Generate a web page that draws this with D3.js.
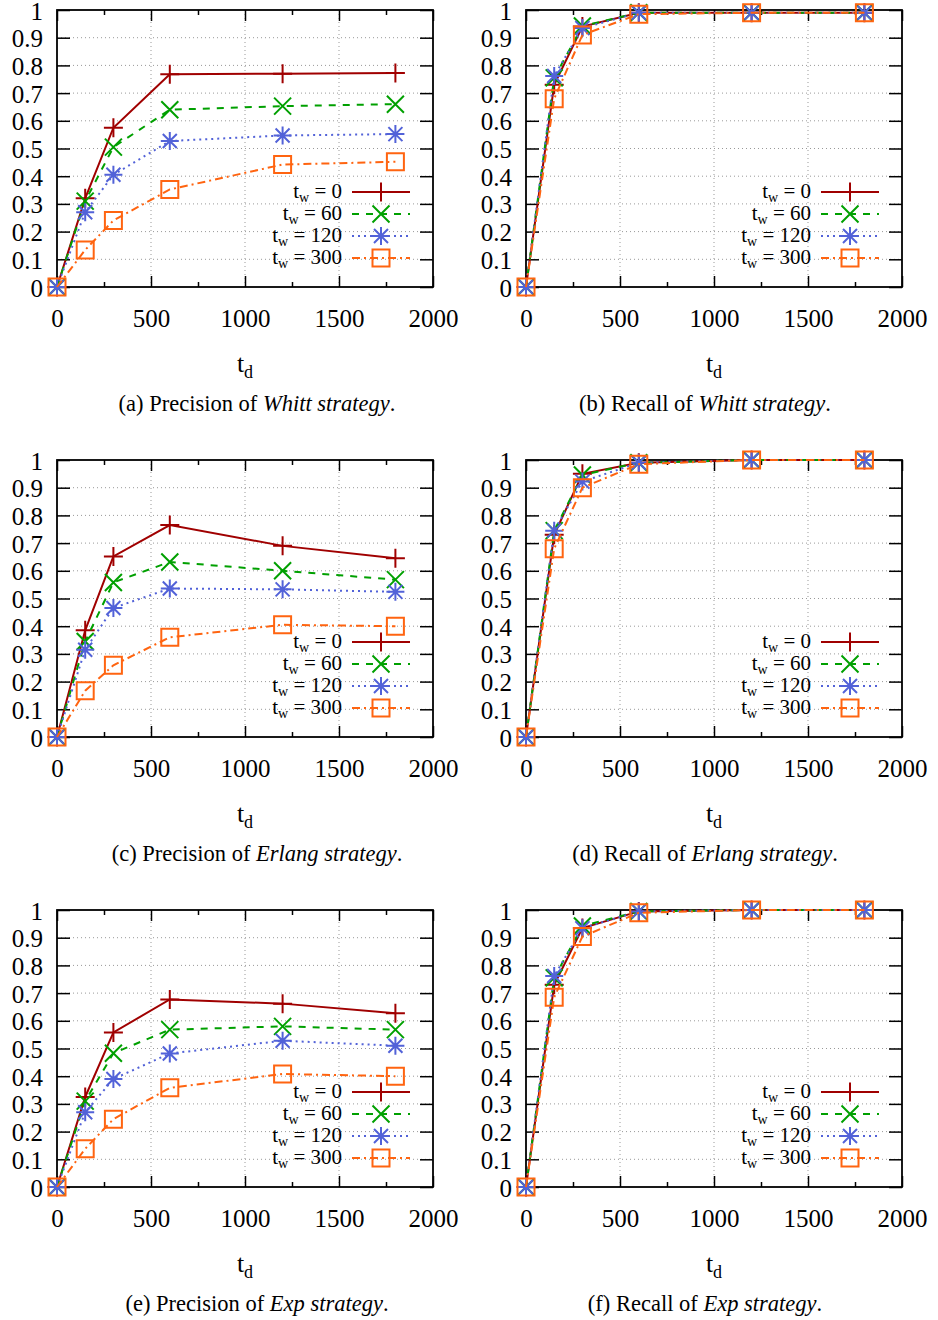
<!DOCTYPE html>
<html>
<head>
<meta charset="utf-8">
<script src="https://cdn.jsdelivr.net/npm/d3@7"></script>
<style>
  body { margin: 0; background: #fff; }
  svg text { font-family: "Liberation Serif", "DejaVu Serif", serif; fill: #000; }
</style>
</head>
<body>
<div id="viz"></div>
<script>
// t_d values on the x axis
var xValues = [0, 150, 300, 600, 1200, 1800]
// t_w of each series
var waitTimes = ["0", "60", "120", "300"]

// precision / recall, one row per t_w
var whittPrecision = [
  [0, 0.32, 0.575, 0.768, 0.770, 0.773],
  [0, 0.31, 0.505, 0.640, 0.653, 0.660],
  [0, 0.27, 0.405, 0.527, 0.547, 0.552],
  [0, 0.134, 0.240, 0.352, 0.442, 0.452]
]
var whittRecall = [
  [0, 0.73, 0.940, 0.990, 0.990, 0.990],
  [0, 0.755, 0.942, 0.990, 0.990, 0.990],
  [0, 0.762, 0.935, 0.990, 0.990, 0.990],
  [0, 0.680, 0.910, 0.985, 0.990, 0.990]
]
var erlangPrecision = [
  [0, 0.385, 0.652, 0.765, 0.690, 0.645],
  [0, 0.345, 0.558, 0.632, 0.600, 0.568],
  [0, 0.315, 0.466, 0.536, 0.533, 0.524],
  [0, 0.167, 0.259, 0.360, 0.405, 0.400]
]
var erlangRecall = [
  [0, 0.73, 0.950, 0.990, 1.0, 1.0],
  [0, 0.745, 0.946, 0.990, 1.0, 1.0],
  [0, 0.745, 0.922, 0.990, 1.0, 1.0],
  [0, 0.680, 0.900, 0.985, 1.0, 1.0]
]
var expPrecision = [
  [0, 0.325, 0.558, 0.677, 0.662, 0.627],
  [0, 0.310, 0.483, 0.568, 0.580, 0.568],
  [0, 0.270, 0.390, 0.482, 0.528, 0.510],
  [0, 0.138, 0.245, 0.358, 0.408, 0.400]
]
var expRecall = [
  [0, 0.73, 0.935, 0.995, 1.0, 1.0],
  [0, 0.755, 0.942, 0.995, 1.0, 1.0],
  [0, 0.762, 0.934, 0.995, 1.0, 1.0],
  [0, 0.685, 0.904, 0.990, 1.0, 1.0]
]

var xMajorTicks = [0, 500, 1000, 1500, 2000]
var xMinorTicks = [250, 750, 1250, 1750]
var xGrid = [500, 1000, 1500]

var panels = [
  { letter: "a", metric: "Precision", strategy: "Whitt strategy", data: whittPrecision },
  { letter: "b", metric: "Recall", strategy: "Whitt strategy", data: whittRecall },
  { letter: "c", metric: "Precision", strategy: "Erlang strategy", data: erlangPrecision },
  { letter: "d", metric: "Recall", strategy: "Erlang strategy", data: erlangRecall },
  { letter: "e", metric: "Precision", strategy: "Exp strategy", data: expPrecision },
  { letter: "f", metric: "Recall", strategy: "Exp strategy", data: expRecall }
]

var styles = [
  { color: "#a00000", dash: null, marker: "plus" },
  { color: "#00a000", dash: "7,7", marker: "cross" },
  { color: "#5262d8", dash: "2,4", marker: "star" },
  { color: "#ff6410", dash: "8,4,2,4", marker: "square" }
]

var svg = d3.select("#viz").append("svg")
  .attr("width", 938)
  .attr("height", 1320)

var plotW = 376, plotH = 277
var colLeft = [57, 526]
var rowTop = [10, 460, 910]
var captionX = [257, 705]
var serif = "'Liberation Serif', 'DejaVu Serif', serif"

var x = d3.scaleLinear().domain([0, 2000]).range([0, plotW])
var y = d3.scaleLinear().domain([0, 1]).range([plotH, 0])

function markerPath(type) {
  if (type == "plus") return "M-9.5,0H9.5M0,-9.5V9.5"
  if (type == "cross") return "M-8.5,-8.5L8.5,8.5M-8.5,8.5L8.5,-8.5"
  if (type == "star") return "M-9,0H9M0,-9V9M-7,-7L7,7M-7,7L7,-7"
  return "M-8.5,-8.5H8.5V8.5H-8.5Z"
}

function subText(sel, main, sub, rest, subSize, dy) {
  sel.append("tspan").text(main)
  sel.append("tspan").attr("dy", dy).style("font-size", subSize + "px").text(sub)
  if (rest) sel.append("tspan").attr("dy", -dy).text(rest)
}

panels.forEach(function (p, i) {
  var col = i % 2, row = Math.floor(i / 2)
  var g = svg.append("g")
    .attr("transform", "translate(" + colLeft[col] + "," + rowTop[row] + ")")

  // grid
  g.selectAll(".gx").data(xGrid).enter().append("line")
    .attr("x1", d => x(d)).attr("x2", d => x(d))
    .attr("y1", 0).attr("y2", plotH)
    .style("stroke", "#999").style("stroke-width", 1).style("stroke-dasharray", "1,3")
  g.selectAll(".gy").data(y.ticks(10).filter(d => d > 0 && d < 1)).enter().append("line")
    .attr("x1", 0).attr("x2", plotW)
    .attr("y1", d => y(d)).attr("y2", d => y(d))
    .style("stroke", "#999").style("stroke-width", 1).style("stroke-dasharray", "1,3")

  // axes, ticks pointing inwards
  var bottom = g.append("g").attr("transform", "translate(0," + plotH + ")")
    .call(d3.axisBottom(x).tickValues(xMajorTicks).tickSize(-11).tickPadding(22).tickFormat(d3.format("d")))
  var bottomMinor = g.append("g").attr("transform", "translate(0," + plotH + ")")
    .call(d3.axisBottom(x).tickValues(xMinorTicks).tickSize(-5).tickFormat(""))
  var top = g.append("g")
    .call(d3.axisTop(x).tickValues(xMajorTicks).tickSize(-11).tickFormat(""))
  var topMinor = g.append("g")
    .call(d3.axisTop(x).tickValues(xMinorTicks).tickSize(-5).tickFormat(""))
  var left = g.append("g")
    .call(d3.axisLeft(y).ticks(10).tickSize(-13).tickPadding(14).tickFormat(d3.format(".1~f")))
  var right = g.append("g").attr("transform", "translate(" + plotW + ",0)")
    .call(d3.axisRight(y).ticks(10).tickSize(-13).tickFormat(""))

  ;[bottom, bottomMinor, top, topMinor, left, right].forEach(function (a) {
    a.attr("font-family", serif).attr("font-size", 25)
    a.select(".domain").remove()
    a.selectAll("line").style("stroke", "#000").style("stroke-width", 1.5)
  })
  left.selectAll("text").attr("dy", "0.36em")

  g.append("rect")
    .attr("width", plotW).attr("height", plotH)
    .style("fill", "none").style("stroke", "#000").style("stroke-width", 1.8)

  // series
  var line = d3.line().x((d, k) => x(xValues[k])).y(d => y(d))
  p.data.forEach(function (values, s) {
    var st = styles[s]
    g.append("path")
      .datum(values)
      .attr("d", line)
      .style("fill", "none")
      .style("stroke", st.color)
      .style("stroke-width", 2)
      .style("stroke-dasharray", st.dash)
    g.selectAll(".m" + s).data(values).enter().append("path")
      .attr("transform", (d, k) => "translate(" + x(xValues[k]) + "," + y(d) + ")")
      .attr("d", markerPath(st.marker))
      .style("fill", "none")
      .style("stroke", st.color)
      .style("stroke-width", 2)
  })

  // legend
  waitTimes.forEach(function (tw, s) {
    var st = styles[s]
    var ly = 182 + 22 * s
    var t = g.append("text")
      .attr("x", 285).attr("y", ly + 6)
      .attr("text-anchor", "end")
      .style("font-size", "21px")
    subText(t, "t", "w", " = " + tw, 14, 4)
    g.append("line")
      .attr("x1", 295).attr("x2", 353).attr("y1", ly).attr("y2", ly)
      .style("stroke", st.color).style("stroke-width", 2)
      .style("stroke-dasharray", st.dash)
    g.append("path")
      .attr("transform", "translate(324," + ly + ")")
      .attr("d", markerPath(st.marker))
      .style("fill", "none").style("stroke", st.color).style("stroke-width", 2)
  })

  // x axis title
  var xt = g.append("text")
    .attr("x", plotW / 2).attr("y", 362)
    .attr("text-anchor", "middle")
    .style("font-size", "26px")
  subText(xt, "t", "d", null, 18, 6)

  // caption
  var cap = svg.append("text")
    .attr("x", captionX[col]).attr("y", rowTop[row] + 401)
    .attr("text-anchor", "middle")
    .style("font-size", "22.5px")
  cap.append("tspan").text("(" + p.letter + ") " + p.metric + " of ")
  cap.append("tspan").style("font-style", "italic").text(p.strategy)
  cap.append("tspan").text(".")
})
</script>
</body>
</html>
